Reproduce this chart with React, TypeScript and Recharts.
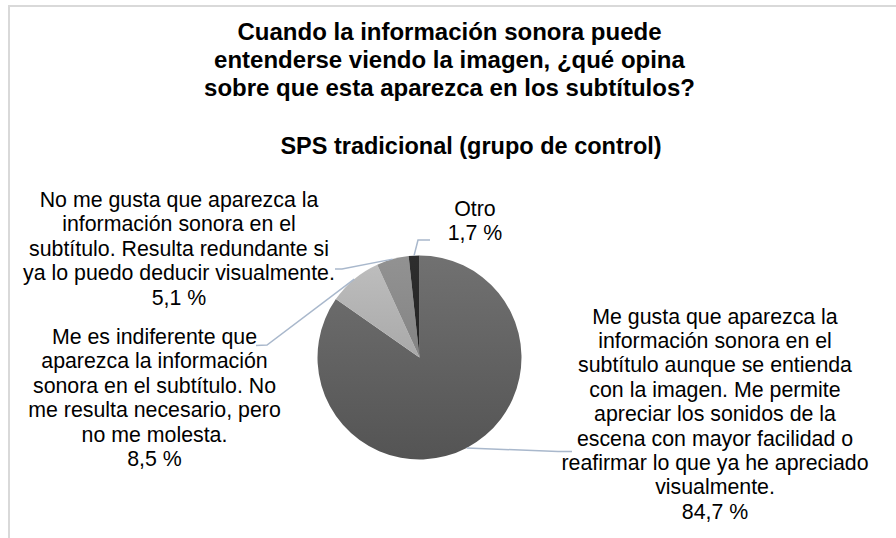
import { PieChart, Pie, Cell } from 'recharts';

// answers, in clockwise order starting at 12 o'clock
const categories = [
  'Me gusta que aparezca la\ninformación sonora en el\nsubtítulo aunque se entienda\ncon la imagen. Me permite\napreciar los sonidos de la\nescena con mayor facilidad o\nreafirmar lo que ya he apreciado\nvisualmente.',
  'Me es indiferente que\naparezca la información\nsonora en el subtítulo. No\nme resulta necesario, pero\nno me molesta.',
  'No me gusta que aparezca la\ninformación sonora en el\nsubtítulo. Resulta redundante si\nya lo puedo deducir visualmente.',
  'Otro',
];
const percentages = [84.7, 8.5, 5.1, 1.7];

const titleLines = [
  'Cuando la información sonora puede',
  'entenderse viendo la imagen, ¿qué opina',
  'sobre que esta aparezca en los subtítulos?',
];
const subtitle = 'SPS tradicional (grupo de control)';

const chartData = categories.map((name, i) => ({ name, value: percentages[i] }));

const FONT = '"Liberation Sans", Arial, sans-serif';
const RAD = Math.PI / 180;
const sliceFills = ['url(#gMain)', 'url(#gLight)', 'url(#gMid)', 'url(#gDark)'];

// where the (hand placed) data labels sit, and the leader line bends
const labelLayout = [
  { x: 715, y: 323.5, elbow: [558, 451.5], end: [572, 451.5] },
  { x: 154.5, y: 344, elbow: [267, 345], end: [256, 345.5] },
  { x: 179, y: 207, elbow: [342, 269], end: [335, 269] },
  { x: 475, y: 216, elbow: [418, 240], end: [430, 240] },
];

const fmt = (v: number) => v.toFixed(1).replace('.', ',') + ' %';

function renderLabel(props: any) {
  const { cx, cy, midAngle, outerRadius, index, value } = props;
  const sx = cx + outerRadius * Math.cos(-midAngle * RAD);
  const sy = cy + outerRadius * Math.sin(-midAngle * RAD);
  const lay = labelLayout[index];
  const lines = [...categories[index].split('\n'), fmt(value)];
  return (
    <g key={`lbl-${index}`}>
      <polyline
        points={`${sx},${sy} ${lay.elbow[0]},${lay.elbow[1]} ${lay.end[0]},${lay.end[1]}`}
        fill="none"
        stroke="#a9b8cc"
        strokeWidth={1.5}
      />
      <text x={lay.x} y={lay.y} textAnchor="middle" fontSize={21.33} fontFamily={FONT} fill="#000">
        {lines.map((l, i) => (
          <tspan key={i} x={lay.x} dy={i === 0 ? 0 : 24.4}>
            {l}
          </tspan>
        ))}
      </text>
    </g>
  );
}

export default function App() {
  return (
    <div style={{ position: 'absolute', left: 0, top: 0, width: 896, height: 538, background: '#fff' }}>
      <div
        style={{
          position: 'absolute',
          left: 8,
          top: 5,
          right: 0,
          bottom: 0,
          borderTop: '2px solid #d9d9d9',
          borderLeft: '2px solid #d9d9d9',
        }}
      />
      <div style={{ position: 'absolute', left: 0, top: 0 }}>
        <PieChart width={896} height={538} margin={{ top: 0, right: 0, bottom: 0, left: 0 }}>
          <defs>
            <linearGradient id="gMain" x1="0" y1="0" x2="0" y2="1">
              <stop offset="0%" stopColor="#717171" />
              <stop offset="100%" stopColor="#545454" />
            </linearGradient>
            <linearGradient id="gLight" x1="0" y1="0" x2="0" y2="1">
              <stop offset="0%" stopColor="#bdbdbd" />
              <stop offset="100%" stopColor="#a9a9a9" />
            </linearGradient>
            <linearGradient id="gMid" x1="0" y1="0" x2="0" y2="1">
              <stop offset="0%" stopColor="#929292" />
              <stop offset="100%" stopColor="#848484" />
            </linearGradient>
            <linearGradient id="gDark" x1="0" y1="0" x2="0" y2="1">
              <stop offset="0%" stopColor="#2e2e2e" />
              <stop offset="100%" stopColor="#222222" />
            </linearGradient>
          </defs>
          <text textAnchor="middle" fontSize={24} fontWeight="bold" fontFamily={FONT} fill="#000">
            {titleLines.map((l, i) => (
              <tspan key={i} x={449.5} y={39.5 + i * 28.3}>
                {l}
              </tspan>
            ))}
          </text>
          <text x={471} y={153.5} textAnchor="middle" fontSize={23.5} fontWeight="bold" fontFamily={FONT} fill="#000">
            {subtitle}
          </text>
          <Pie
            data={chartData}
            dataKey="value"
            nameKey="name"
            cx={419.5}
            cy={357.5}
            outerRadius={102}
            startAngle={90}
            endAngle={-270}
            stroke="none"
            label={renderLabel}
            labelLine={false}
            isAnimationActive={false}
          >
            {chartData.map((_, i) => (
              <Cell key={i} fill={sliceFills[i]} />
            ))}
          </Pie>
        </PieChart>
      </div>
    </div>
  );
}
